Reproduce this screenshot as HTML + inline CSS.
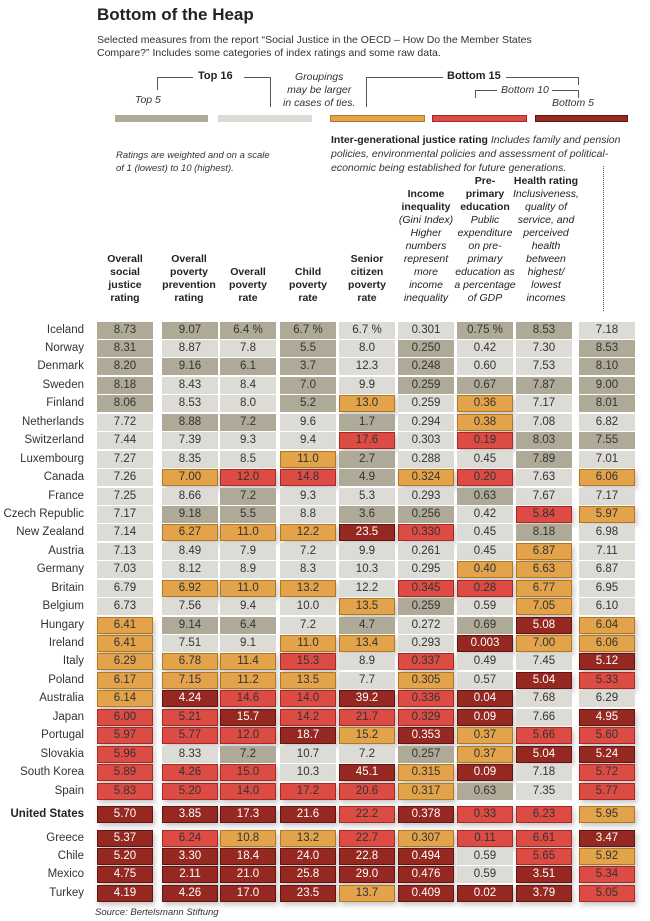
<!DOCTYPE html>
<html><head><meta charset="utf-8"><style>
*{margin:0;padding:0;box-sizing:border-box}
body{width:650px;height:921px;background:#fff;position:relative;font-family:"Liberation Sans",Arial,sans-serif;color:#222;overflow:hidden}
.t{position:absolute;white-space:nowrap}
.r{position:absolute;left:0;width:650px;height:17px}
.n{position:absolute;right:566px;top:0;line-height:17px;font-size:11.5px;color:#333;white-space:nowrap}
.r i{position:absolute;top:0;height:17px;width:56px;line-height:17px;text-align:center;font-style:normal;font-size:11.5px;color:#333}
.k1{left:97px}.k2{left:162px}.k3{left:220px}.k4{left:280px}.k5{left:339px}.k6{left:398px}.k7{left:457px}.k8{left:516px}.k9{left:579px}
.A{background:#afaa98}.B{background:#dddbd5}
.O{background:#e2a34a;border:1px solid #b07822;box-shadow:2px 3px 5px rgba(0,0,0,.22);line-height:15px!important}
.R{background:#dc4c44;border:1px solid #a52a24;box-shadow:2px 3px 5px rgba(0,0,0,.22);line-height:15px!important}
.D{background:#952820;border:1px solid #641410;box-shadow:2px 3px 5px rgba(0,0,0,.22);line-height:15px!important;color:#fff!important}
.h{position:absolute;font-size:10.5px;font-weight:bold;text-align:center;line-height:13px;bottom:616px;width:64px}
.hi{font-weight:normal;font-style:italic}
.bar{position:absolute;top:115px;height:7px}
.ln{position:absolute;background:#555}
</style></head><body>
<div class="t" style="left:97px;top:5px;font-size:17px;font-weight:bold">Bottom of the Heap</div>
<div class="t" style="left:97px;top:34px;font-size:10.5px;line-height:13px;color:#333">Selected measures from the report “Social Justice in the OECD – How Do the Member States<br>Compare?” Includes some categories of index ratings and some raw data.</div>

<div class="t" style="left:198px;top:70px;font-size:11px;font-weight:bold">Top 16</div>
<div class="ln" style="left:157px;top:77px;width:36px;height:1px"></div>
<div class="ln" style="left:244px;top:77px;width:26px;height:1px"></div>
<div class="ln" style="left:157px;top:77px;width:1px;height:13px"></div>
<div class="ln" style="left:270px;top:77px;width:1px;height:30px"></div>
<div class="t" style="left:135px;top:94px;font-size:10.5px;font-style:italic;color:#333">Top 5</div>
<div class="t" style="left:283px;top:71px;font-size:10.5px;font-style:italic;line-height:13px;text-align:center;color:#333">Groupings<br>may be larger<br>in cases of ties.</div>
<div class="t" style="left:447px;top:70px;font-size:11px;font-weight:bold">Bottom 15</div>
<div class="ln" style="left:366px;top:77px;width:77px;height:1px"></div>
<div class="ln" style="left:506px;top:77px;width:72px;height:1px"></div>
<div class="ln" style="left:366px;top:77px;width:1px;height:30px"></div>
<div class="ln" style="left:578px;top:77px;width:1px;height:8px"></div>
<div class="t" style="left:501px;top:84px;font-size:10.5px;font-style:italic;color:#333">Bottom 10</div>
<div class="ln" style="left:475px;top:90px;width:22px;height:1px"></div>
<div class="ln" style="left:475px;top:90px;width:1px;height:8px"></div>
<div class="ln" style="left:552px;top:90px;width:26px;height:1px"></div>
<div class="ln" style="left:578px;top:90px;width:1px;height:8px"></div>
<div class="t" style="left:552px;top:97px;font-size:10.5px;font-style:italic;color:#333">Bottom 5</div>

<div class="bar" style="left:115px;width:93px;background:#afaa98"></div>
<div class="bar" style="left:218px;width:94px;background:#dddbd5"></div>
<div class="bar" style="left:330px;width:95px;background:#e2a34a;border:1px solid #b07822"></div>
<div class="bar" style="left:432px;width:95px;background:#dc4c44;border:1px solid #a52a24"></div>
<div class="bar" style="left:535px;width:93px;background:#952820;border:1px solid #641410"></div>

<div class="t" style="left:116px;top:149px;font-size:9.5px;font-style:italic;line-height:13px;color:#333">Ratings are weighted and on a scale<br>of 1 (lowest) to 10 (highest).</div>
<div class="t" style="left:331px;top:133px;font-size:10.5px;line-height:14px;color:#333"><b style="color:#222">Inter-generational justice rating</b> <i>Includes family and pension<br>policies, environmental policies and assessment of political-<br>economic being established for future generations.</i></div>
<div style="position:absolute;left:603px;top:166px;height:145px;border-left:1px dotted #555"></div>

<div class="h" style="left:93px">Overall<br>social<br>justice<br>rating</div>
<div class="h" style="left:157px">Overall<br>poverty<br>prevention<br>rating</div>
<div class="h" style="left:216px">Overall<br>poverty<br>rate</div>
<div class="h" style="left:276px">Child<br>poverty<br>rate</div>
<div class="h" style="left:335px">Senior<br>citizen<br>poverty<br>rate</div>
<div class="h" style="left:394px">Income<br>inequality<br><span class="hi">(Gini Index)<br>Higher<br>numbers<br>represent<br>more<br>income<br>inequality</span></div>
<div class="h" style="left:450px;width:70px">Pre-<br>primary<br>education<br><span class="hi">Public<br>expenditure<br>on pre-<br>primary<br>education as<br>a percentage<br>of GDP</span></div>
<div class="h" style="left:511px;width:70px">Health rating<br><span class="hi">Inclusiveness,<br>quality of<br>service, and<br>perceived<br>health<br>between<br>highest/<br>lowest<br>incomes</span></div>

<div class="r" style="top:321.5px"><span class="n">Iceland</span><i class="k1 A">8.73</i><i class="k2 A">9.07</i><i class="k3 A">6.4 %</i><i class="k4 A">6.7 %</i><i class="k5 B">6.7 %</i><i class="k6 B">0.301</i><i class="k7 A">0.75 %</i><i class="k8 A">8.53</i><i class="k9 B">7.18</i></div>
<div class="r" style="top:339.9px"><span class="n">Norway</span><i class="k1 A">8.31</i><i class="k2 B">8.87</i><i class="k3 B">7.8</i><i class="k4 A">5.5</i><i class="k5 B">8.0</i><i class="k6 A">0.250</i><i class="k7 B">0.42</i><i class="k8 B">7.30</i><i class="k9 A">8.53</i></div>
<div class="r" style="top:358.4px"><span class="n">Denmark</span><i class="k1 A">8.20</i><i class="k2 A">9.16</i><i class="k3 A">6.1</i><i class="k4 A">3.7</i><i class="k5 B">12.3</i><i class="k6 A">0.248</i><i class="k7 B">0.60</i><i class="k8 B">7.53</i><i class="k9 A">8.10</i></div>
<div class="r" style="top:376.8px"><span class="n">Sweden</span><i class="k1 A">8.18</i><i class="k2 B">8.43</i><i class="k3 B">8.4</i><i class="k4 A">7.0</i><i class="k5 B">9.9</i><i class="k6 A">0.259</i><i class="k7 A">0.67</i><i class="k8 A">7.87</i><i class="k9 A">9.00</i></div>
<div class="r" style="top:395.3px"><span class="n">Finland</span><i class="k1 A">8.06</i><i class="k2 B">8.53</i><i class="k3 B">8.0</i><i class="k4 A">5.2</i><i class="k5 O">13.0</i><i class="k6 B">0.259</i><i class="k7 O">0.36</i><i class="k8 B">7.17</i><i class="k9 A">8.01</i></div>
<div class="r" style="top:413.7px"><span class="n">Netherlands</span><i class="k1 B">7.72</i><i class="k2 A">8.88</i><i class="k3 A">7.2</i><i class="k4 B">9.6</i><i class="k5 A">1.7</i><i class="k6 B">0.294</i><i class="k7 O">0.38</i><i class="k8 B">7.08</i><i class="k9 B">6.82</i></div>
<div class="r" style="top:432.1px"><span class="n">Switzerland</span><i class="k1 B">7.44</i><i class="k2 B">7.39</i><i class="k3 B">9.3</i><i class="k4 B">9.4</i><i class="k5 R">17.6</i><i class="k6 B">0.303</i><i class="k7 R">0.19</i><i class="k8 A">8.03</i><i class="k9 A">7.55</i></div>
<div class="r" style="top:450.6px"><span class="n">Luxembourg</span><i class="k1 B">7.27</i><i class="k2 B">8.35</i><i class="k3 B">8.5</i><i class="k4 O">11.0</i><i class="k5 A">2.7</i><i class="k6 B">0.288</i><i class="k7 B">0.45</i><i class="k8 A">7.89</i><i class="k9 B">7.01</i></div>
<div class="r" style="top:469px"><span class="n">Canada</span><i class="k1 B">7.26</i><i class="k2 O">7.00</i><i class="k3 R">12.0</i><i class="k4 R">14.8</i><i class="k5 A">4.9</i><i class="k6 O">0.324</i><i class="k7 R">0.20</i><i class="k8 B">7.63</i><i class="k9 O">6.06</i></div>
<div class="r" style="top:487.5px"><span class="n">France</span><i class="k1 B">7.25</i><i class="k2 B">8.66</i><i class="k3 A">7.2</i><i class="k4 B">9.3</i><i class="k5 B">5.3</i><i class="k6 B">0.293</i><i class="k7 A">0.63</i><i class="k8 B">7.67</i><i class="k9 B">7.17</i></div>
<div class="r" style="top:505.9px"><span class="n">Czech Republic</span><i class="k1 B">7.17</i><i class="k2 A">9.18</i><i class="k3 A">5.5</i><i class="k4 B">8.8</i><i class="k5 A">3.6</i><i class="k6 A">0.256</i><i class="k7 B">0.42</i><i class="k8 R">5.84</i><i class="k9 O">5.97</i></div>
<div class="r" style="top:524.3px"><span class="n">New Zealand</span><i class="k1 B">7.14</i><i class="k2 O">6.27</i><i class="k3 O">11.0</i><i class="k4 O">12.2</i><i class="k5 D">23.5</i><i class="k6 R">0.330</i><i class="k7 B">0.45</i><i class="k8 A">8.18</i><i class="k9 B">6.98</i></div>
<div class="r" style="top:542.8px"><span class="n">Austria</span><i class="k1 B">7.13</i><i class="k2 B">8.49</i><i class="k3 B">7.9</i><i class="k4 B">7.2</i><i class="k5 B">9.9</i><i class="k6 B">0.261</i><i class="k7 B">0.45</i><i class="k8 O">6.87</i><i class="k9 B">7.11</i></div>
<div class="r" style="top:561.2px"><span class="n">Germany</span><i class="k1 B">7.03</i><i class="k2 B">8.12</i><i class="k3 B">8.9</i><i class="k4 B">8.3</i><i class="k5 B">10.3</i><i class="k6 B">0.295</i><i class="k7 O">0.40</i><i class="k8 O">6.63</i><i class="k9 B">6.87</i></div>
<div class="r" style="top:579.7px"><span class="n">Britain</span><i class="k1 B">6.79</i><i class="k2 O">6.92</i><i class="k3 O">11.0</i><i class="k4 O">13.2</i><i class="k5 B">12.2</i><i class="k6 R">0.345</i><i class="k7 R">0.28</i><i class="k8 O">6.77</i><i class="k9 B">6.95</i></div>
<div class="r" style="top:598.1px"><span class="n">Belgium</span><i class="k1 B">6.73</i><i class="k2 B">7.56</i><i class="k3 B">9.4</i><i class="k4 B">10.0</i><i class="k5 O">13.5</i><i class="k6 A">0.259</i><i class="k7 B">0.59</i><i class="k8 O">7.05</i><i class="k9 B">6.10</i></div>
<div class="r" style="top:616.5px"><span class="n">Hungary</span><i class="k1 O">6.41</i><i class="k2 A">9.14</i><i class="k3 A">6.4</i><i class="k4 B">7.2</i><i class="k5 A">4.7</i><i class="k6 B">0.272</i><i class="k7 A">0.69</i><i class="k8 D">5.08</i><i class="k9 O">6.04</i></div>
<div class="r" style="top:635px"><span class="n">Ireland</span><i class="k1 O">6.41</i><i class="k2 B">7.51</i><i class="k3 B">9.1</i><i class="k4 O">11.0</i><i class="k5 O">13.4</i><i class="k6 B">0.293</i><i class="k7 D">0.003</i><i class="k8 O">7.00</i><i class="k9 O">6.06</i></div>
<div class="r" style="top:653.4px"><span class="n">Italy</span><i class="k1 O">6.29</i><i class="k2 O">6.78</i><i class="k3 O">11.4</i><i class="k4 R">15.3</i><i class="k5 B">8.9</i><i class="k6 R">0.337</i><i class="k7 B">0.49</i><i class="k8 B">7.45</i><i class="k9 D">5.12</i></div>
<div class="r" style="top:671.9px"><span class="n">Poland</span><i class="k1 O">6.17</i><i class="k2 O">7.15</i><i class="k3 O">11.2</i><i class="k4 O">13.5</i><i class="k5 B">7.7</i><i class="k6 O">0.305</i><i class="k7 B">0.57</i><i class="k8 D">5.04</i><i class="k9 R">5.33</i></div>
<div class="r" style="top:690.3px"><span class="n">Australia</span><i class="k1 O">6.14</i><i class="k2 D">4.24</i><i class="k3 R">14.6</i><i class="k4 R">14.0</i><i class="k5 D">39.2</i><i class="k6 R">0.336</i><i class="k7 D">0.04</i><i class="k8 B">7.68</i><i class="k9 B">6.29</i></div>
<div class="r" style="top:708.7px"><span class="n">Japan</span><i class="k1 R">6.00</i><i class="k2 R">5.21</i><i class="k3 D">15.7</i><i class="k4 R">14.2</i><i class="k5 R">21.7</i><i class="k6 R">0.329</i><i class="k7 D">0.09</i><i class="k8 B">7.66</i><i class="k9 D">4.95</i></div>
<div class="r" style="top:727.2px"><span class="n">Portugal</span><i class="k1 R">5.97</i><i class="k2 R">5.77</i><i class="k3 R">12.0</i><i class="k4 D">18.7</i><i class="k5 O">15.2</i><i class="k6 D">0.353</i><i class="k7 O">0.37</i><i class="k8 R">5.66</i><i class="k9 R">5.60</i></div>
<div class="r" style="top:745.6px"><span class="n">Slovakia</span><i class="k1 R">5.96</i><i class="k2 B">8.33</i><i class="k3 A">7.2</i><i class="k4 B">10.7</i><i class="k5 B">7.2</i><i class="k6 A">0.257</i><i class="k7 O">0.37</i><i class="k8 D">5.04</i><i class="k9 D">5.24</i></div>
<div class="r" style="top:764.1px"><span class="n">South Korea</span><i class="k1 R">5.89</i><i class="k2 R">4.26</i><i class="k3 R">15.0</i><i class="k4 B">10.3</i><i class="k5 D">45.1</i><i class="k6 O">0.315</i><i class="k7 D">0.09</i><i class="k8 B">7.18</i><i class="k9 R">5.72</i></div>
<div class="r" style="top:782.5px"><span class="n">Spain</span><i class="k1 R">5.83</i><i class="k2 R">5.20</i><i class="k3 R">14.0</i><i class="k4 R">17.2</i><i class="k5 R">20.6</i><i class="k6 O">0.317</i><i class="k7 A">0.63</i><i class="k8 B">7.35</i><i class="k9 R">5.77</i></div>
<div class="r" style="top:805.5px"><span class="n" style="font-weight:bold;color:#222">United States</span><i class="k1 D">5.70</i><i class="k2 D">3.85</i><i class="k3 D">17.3</i><i class="k4 D">21.6</i><i class="k5 R">22.2</i><i class="k6 D">0.378</i><i class="k7 R">0.33</i><i class="k8 R">6.23</i><i class="k9 O">5.95</i></div>
<div class="r" style="top:829.5px"><span class="n">Greece</span><i class="k1 D">5.37</i><i class="k2 R">6.24</i><i class="k3 O">10.8</i><i class="k4 O">13.2</i><i class="k5 R">22.7</i><i class="k6 O">0.307</i><i class="k7 R">0.11</i><i class="k8 R">6.61</i><i class="k9 D">3.47</i></div>
<div class="r" style="top:847.5px"><span class="n">Chile</span><i class="k1 D">5.20</i><i class="k2 D">3.30</i><i class="k3 D">18.4</i><i class="k4 D">24.0</i><i class="k5 D">22.8</i><i class="k6 D">0.494</i><i class="k7 B">0.59</i><i class="k8 R">5.65</i><i class="k9 O">5.92</i></div>
<div class="r" style="top:866px"><span class="n">Mexico</span><i class="k1 D">4.75</i><i class="k2 D">2.11</i><i class="k3 D">21.0</i><i class="k4 D">25.8</i><i class="k5 D">29.0</i><i class="k6 D">0.476</i><i class="k7 B">0.59</i><i class="k8 D">3.51</i><i class="k9 R">5.34</i></div>
<div class="r" style="top:884.5px"><span class="n">Turkey</span><i class="k1 D">4.19</i><i class="k2 D">4.26</i><i class="k3 D">17.0</i><i class="k4 D">23.5</i><i class="k5 O">13.7</i><i class="k6 D">0.409</i><i class="k7 D">0.02</i><i class="k8 D">3.79</i><i class="k9 R">5.05</i></div>

<div class="t" style="left:95px;top:907px;font-size:9.5px;font-style:italic;color:#333">Source: Bertelsmann Stiftung</div>
</body></html>
